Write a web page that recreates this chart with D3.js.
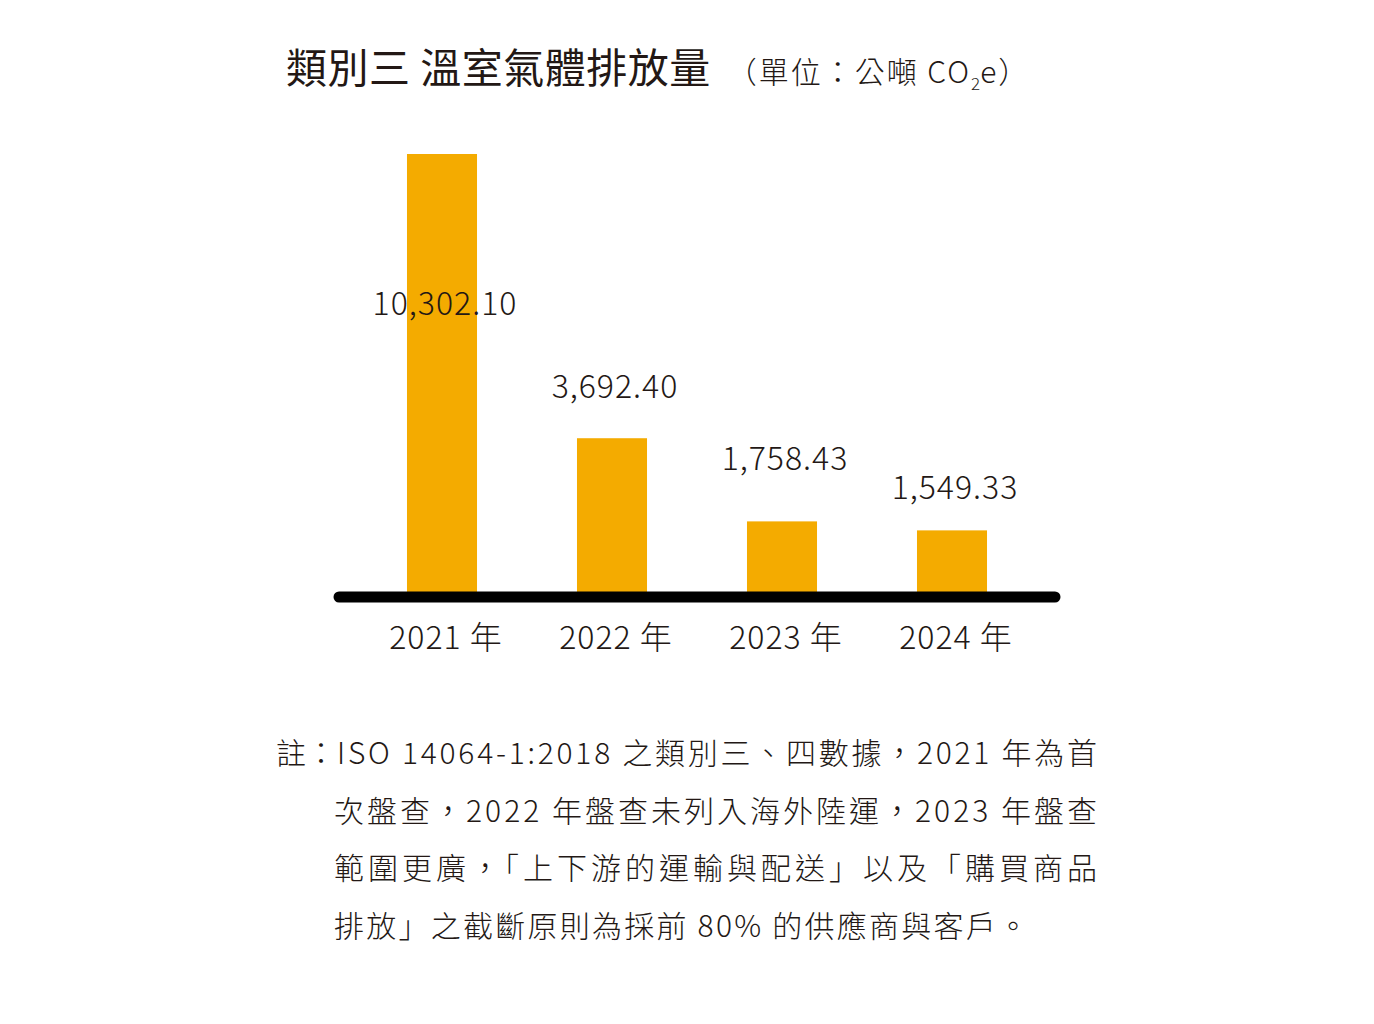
<!DOCTYPE html>
<html>
<head>
<meta charset="utf-8">
<script src="https://cdn.jsdelivr.net/npm/d3@7"></script>
<style>
  body { margin: 0; background: #fff; }
  text { font-family: "Noto Sans CJK TC", "Noto Sans", sans-serif; fill: #231815; }
</style>
</head>
<body>
<div id="chart"></div>
<script>
// 資料
const years = ["2021", "2022", "2023", "2024"];
const emissions = [10302.10, 3692.40, 1758.43, 1549.33];
const valueLabels = ["10,302.10", "3,692.40", "1,758.43", "1,549.33"];
const noteLines = [
  "ISO 14064-1:2018 之類別三、四數據，2021 年為首",
  "次盤查，2022 年盤查未列入海外陸運，2023 年盤查",
  "範圍更廣，「上下游的運輸與配送」以及「購買商品",
  "排放」之截斷原則為採前 80% 的供應商與客戶。"
];

const W = 1374, H = 1024;
const svg = d3.select("#chart").append("svg")
  .attr("width", W).attr("height", H);

// 標題
const title = svg.append("text")
  .attr("x", 286).attr("y", 83);
title.append("tspan")
  .style("font-size", "41px").style("font-weight", 400)
  .style("letter-spacing", "0.5px")
  .text("類別三 溫室氣體排放量");
title.append("tspan")
  .attr("dx", 16)
  .style("font-size", "30px").style("font-weight", 300)
  .style("letter-spacing", "2px")
  .text("（單位：公噸 CO");
title.append("tspan")
  .attr("dy", 7)
  .style("font-size", "17px").style("font-weight", 300)
  .text("2");
title.append("tspan")
  .attr("dy", -7)
  .style("font-size", "30px").style("font-weight", 300)
  .style("letter-spacing", "2px")
  .text("e）");

// 比例尺
const baseY = 597;
const x = d3.scaleBand()
  .domain(years)
  .range([357, 1037])
  .paddingInner(0.588)
  .paddingOuter(0.294);

const y = d3.scaleLinear()
  .domain([0, 10302.10])
  .range([baseY, 154]);

const data = years.map((yr, i) => ({ yr, v: emissions[i], label: valueLabels[i] }));

// 長條
svg.selectAll("rect.bar")
  .data(data)
  .enter()
  .append("rect")
    .attr("class", "bar")
    .attr("x", d => x(d.yr))
    .attr("y", d => y(d.v))
    .attr("width", x.bandwidth())
    .attr("height", d => baseY - y(d.v))
    .attr("fill", "#f4ab00");

// 底線
svg.append("line")
  .attr("x1", 339).attr("x2", 1055)
  .attr("y1", baseY).attr("y2", baseY)
  .attr("stroke", "#000")
  .attr("stroke-width", 11)
  .attr("stroke-linecap", "round");

// 數值標籤（第一筆放在長條中段）
const labelDy = [0, 40, 51, 31];
svg.selectAll("text.val")
  .data(data)
  .enter()
  .append("text")
    .attr("class", "val")
    .attr("x", d => x(d.yr) + x.bandwidth() / 2 + 3)
    .attr("y", (d, i) => i === 0 ? y(d.v / 2) - 61 : y(d.v) - labelDy[i])
    .attr("text-anchor", "middle")
    .style("font-size", "32px")
    .style("font-weight", 300)
    .style("letter-spacing", "1px")
    .text(d => d.label);

// X 軸標籤
svg.selectAll("text.yr")
  .data(data)
  .enter()
  .append("text")
    .attr("class", "yr")
    .attr("x", d => x(d.yr) + x.bandwidth() / 2 + 4)
    .attr("y", 649)
    .attr("text-anchor", "middle")
    .style("font-size", "32px")
    .style("font-weight", 300)
    .style("letter-spacing", "1px")
    .text(d => d.yr + " 年");

// 註
svg.append("text")
  .attr("x", 276).attr("y", 764)
  .style("font-size", "30px").style("font-weight", 300)
  .text("註：");

svg.selectAll("text.note")
  .data(noteLines)
  .enter()
  .append("text")
    .attr("class", "note")
    .attr("x", (d, i) => i === 0 ? 337 : 334)
    .attr("y", (d, i) => 764 + i * 57.5)
    .attr("textLength", (d, i) => i === 3 ? 694 : (i === 0 ? 760 : 763))
    .attr("lengthAdjust", "spacing")
    .style("font-size", "30px")
    .style("font-weight", 300)
    .text(d => d);
</script>
</body>
</html>
